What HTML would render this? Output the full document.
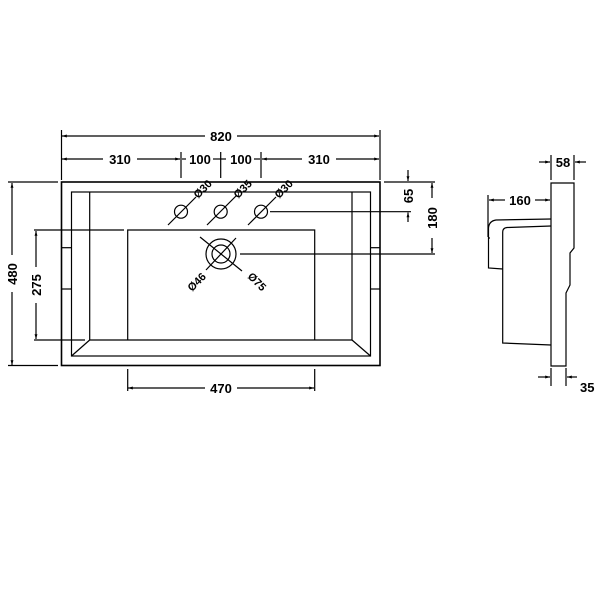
<!DOCTYPE html>
<html><head><meta charset="utf-8"><style>
html,body{margin:0;padding:0;background:#fff}
svg{display:block}
text{font-family:"Liberation Sans",sans-serif;font-weight:bold;font-size:13px;fill:#000}
</style></head><body>
<svg width="600" height="600" viewBox="0 0 600 600" xmlns="http://www.w3.org/2000/svg">
<defs>
<marker id="a" viewBox="0 0 10 10" refX="10" refY="5" markerWidth="6" markerHeight="4" orient="auto-start-reverse"><path d="M0,2 L10,5 L0,8z" fill="#000"/></marker>
</defs>
<g stroke="#000" stroke-width="1.2" fill="none">
<rect x="61.5" y="182" width="318.5" height="183.5" stroke-width="1.6"/>
<rect x="71.5" y="192" width="299" height="164"/>
<line x1="89.7" y1="192" x2="89.7" y2="340"/>
<line x1="352" y1="192" x2="352" y2="340"/>
<line x1="89.7" y1="340" x2="352" y2="340"/>
<line x1="89.7" y1="340" x2="71.5" y2="356"/>
<line x1="352" y1="340" x2="370.5" y2="356"/>
<polyline points="127.7,340 127.7,230 314.7,230 314.7,340"/>
<line x1="61.5" y1="247.7" x2="71.5" y2="247.7"/><line x1="61.5" y1="289" x2="71.5" y2="289"/>
<line x1="370.5" y1="247.7" x2="380" y2="247.7"/><line x1="370.5" y1="289" x2="380" y2="289"/>
<circle cx="181" cy="211.7" r="6.5"/><circle cx="220.7" cy="211.7" r="6.5"/><circle cx="261" cy="211.7" r="6.5"/>
<line x1="168" y1="225" x2="196" y2="197"/><line x1="207" y1="225" x2="236" y2="196"/><line x1="248" y1="225" x2="276" y2="197"/>
<circle cx="221" cy="254" r="15"/><circle cx="221" cy="254" r="9"/>
<line x1="200" y1="237" x2="242" y2="271"/><line x1="236" y1="238" x2="206" y2="270"/>
<line x1="61.5" y1="130" x2="61.5" y2="180"/><line x1="380" y1="130" x2="380" y2="180"/>
<line x1="62" y1="136" x2="205" y2="136" marker-start="url(#a)"/><line x1="237" y1="136" x2="379" y2="136" marker-end="url(#a)"/>
<line x1="62" y1="159" x2="103" y2="159" marker-start="url(#a)"/><line x1="137" y1="159" x2="180" y2="159" marker-end="url(#a)"/>
<line x1="181" y1="152" x2="181" y2="178"/><line x1="220.7" y1="152" x2="220.7" y2="178"/><line x1="261" y1="152" x2="261" y2="178"/>
<line x1="182" y1="159" x2="186" y2="159"/><line x1="213" y1="159" x2="226" y2="159"/><line x1="254" y1="159" x2="260" y2="159"/>
<line x1="262" y1="159" x2="302" y2="159" marker-start="url(#a)"/><line x1="336" y1="159" x2="379" y2="159" marker-end="url(#a)"/>
<line x1="8" y1="182" x2="58" y2="182"/><line x1="8" y1="365.5" x2="58" y2="365.5"/>
<line x1="12" y1="183" x2="12" y2="255" marker-start="url(#a)"/><line x1="12" y1="292" x2="12" y2="365" marker-end="url(#a)"/>
<line x1="34" y1="230" x2="124" y2="230"/><line x1="34" y1="340" x2="85" y2="340"/>
<line x1="36" y1="231" x2="36" y2="267" marker-start="url(#a)"/><line x1="36" y1="303" x2="36" y2="339" marker-end="url(#a)"/>
<line x1="127.7" y1="369" x2="127.7" y2="391"/><line x1="314.7" y1="369" x2="314.7" y2="391"/>
<line x1="128" y1="388" x2="205" y2="388" marker-start="url(#a)"/><line x1="237" y1="388" x2="314" y2="388" marker-end="url(#a)"/>
<line x1="384" y1="182" x2="435" y2="182"/><line x1="270" y1="211.7" x2="411" y2="211.7"/><line x1="240" y1="254" x2="435" y2="254"/>
<line x1="408" y1="170" x2="408" y2="181" marker-end="url(#a)"/><line x1="408" y1="222" x2="408" y2="212.5" marker-end="url(#a)"/>
<line x1="432" y1="183" x2="432" y2="198" marker-start="url(#a)"/><line x1="432" y1="238" x2="432" y2="253" marker-end="url(#a)"/>
<path d="M551,183 L574,183 L574,248 L570,253 L570,285 L566,293 L566,366 L551,366 Z"/>
<path d="M551,219 L496,220 Q489,221 488.5,228 L488.5,268 L502.7,269"/>
<line x1="488.5" y1="238" x2="490" y2="238"/>
<path d="M551,226 L507,227.5 Q502.7,228 502.7,232 L502.7,343 L551,345"/>
<line x1="551" y1="155" x2="551" y2="180"/><line x1="574" y1="155" x2="574" y2="180"/>
<line x1="539" y1="162" x2="550" y2="162" marker-end="url(#a)"/><line x1="586" y1="162" x2="575" y2="162" marker-end="url(#a)"/>
<line x1="488" y1="195" x2="488" y2="237"/>
<line x1="489" y1="200" x2="505" y2="200" marker-start="url(#a)"/><line x1="535" y1="200" x2="550" y2="200" marker-end="url(#a)"/>
<line x1="551" y1="368" x2="551" y2="386"/><line x1="566" y1="368" x2="566" y2="386"/>
<line x1="538" y1="377" x2="550" y2="377" marker-end="url(#a)"/><line x1="577" y1="377" x2="567" y2="377" marker-end="url(#a)"/>
</g>
<text x="221" y="141" text-anchor="middle">820</text>
<text x="120" y="164" text-anchor="middle">310</text>
<text x="200" y="164" text-anchor="middle">100</text>
<text x="241" y="164" text-anchor="middle">100</text>
<text x="319" y="164" text-anchor="middle">310</text>
<text x="221" y="393" text-anchor="middle">470</text>
<text transform="translate(17 274) rotate(-90)" text-anchor="middle">480</text>
<text transform="translate(41 285) rotate(-90)" text-anchor="middle">275</text>
<text transform="translate(413 196) rotate(-90)" text-anchor="middle">65</text>
<text transform="translate(437 218) rotate(-90)" text-anchor="middle">180</text>
<text transform="translate(198 199) rotate(-45)" style="font-size:11px">Ø30</text>
<text transform="translate(238 199) rotate(-45)" style="font-size:11px">Ø35</text>
<text transform="translate(279 199) rotate(-45)" style="font-size:11px">Ø30</text>
<text transform="translate(192 292) rotate(-45)" style="font-size:11px">Ø46</text>
<text transform="translate(247 277) rotate(45)" style="font-size:11px">Ø75</text>
<text x="563" y="167" text-anchor="middle">58</text>
<text x="520" y="205" text-anchor="middle">160</text>
<text x="580" y="392">35</text>
</svg>
</body></html>
